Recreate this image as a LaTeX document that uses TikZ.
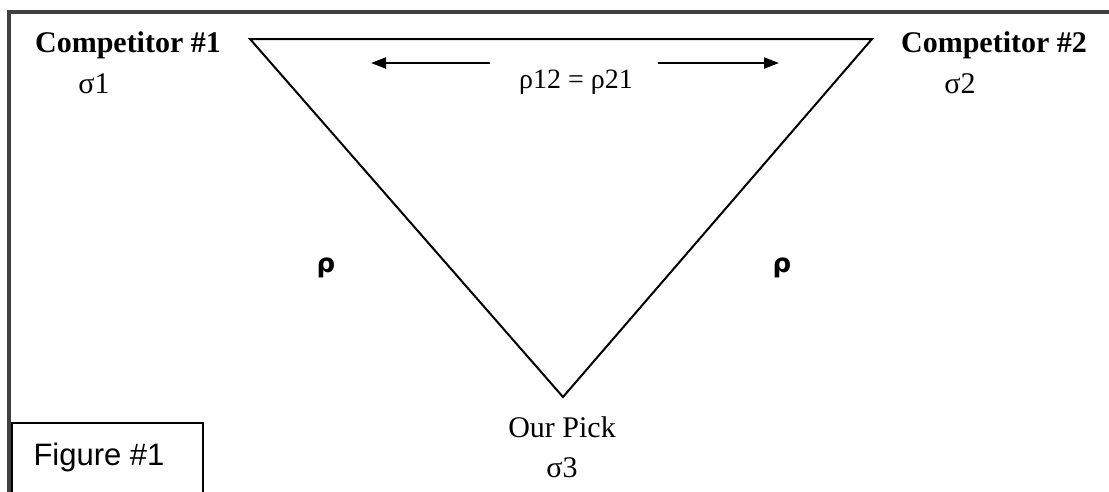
\documentclass[tikz,border=0pt]{standalone}
\usepackage{fontspec}
\setmainfont{Liberation Serif}
\newfontfamily\sansf{Liberation Sans}
\newfontfamily\rhofont{DejaVu Sans}
\usetikzlibrary{arrows.meta}
\definecolor{framegray}{HTML}{404040}
\tikzset{
  lbl/.style={inner sep=0pt, anchor=base, font=\fontsize{30}{36}\selectfont},
  boldlbl/.style={lbl, font=\fontsize{30}{36}\selectfont\bfseries},
  rholbl/.style={inner sep=0pt, anchor=base, font=\fontsize{26}{30}\selectfont\rhofont\bfseries},
  edge/.style={line width=2pt, line join=miter},
  arr/.style={line width=2pt, -{Triangle[length=15pt,width=11pt]}},
  frameline/.style={line width=4pt, draw=framegray},
}
\begin{document}
\begin{tikzpicture}[x=1pt,y=-1pt]
\useasboundingbox (0,0) rectangle (1109,491);
% frame
\coordinate (ftl) at (7,12);
\coordinate (ftr) at (1109,12);
\coordinate (fl) at (9,10);
\coordinate (fb) at (9,495);
\draw[frameline] (ftl) -- (ftr);
\draw[frameline] (fl) -- (fb);
% triangle
\coordinate (A) at (250,39);
\coordinate (B) at (872,39);
\coordinate (C) at (563,397);
\draw[edge] (A) -- (B) -- (C) -- cycle;
% labels
\node[boldlbl] (comp1) at (128,52) {Competitor \#1};
\node[lbl] (sig1) at (94,93) {σ1};
\node[boldlbl] (comp2) at (994,52) {Competitor \#2};
\node[lbl] (sig2) at (960,93) {σ2};
\node[lbl, font=\fontsize{28}{32}\selectfont] (rho12) at (576,88) {ρ12 = ρ21};
\coordinate (la) at (490,63);
\coordinate (lt) at (371,63);
\coordinate (ra) at (658,63);
\coordinate (rt) at (779,63);
\draw[arr] (la) -- (lt);
\draw[arr] (ra) -- (rt);
\node[rholbl] (rhol) at (326,272) {ρ};
\node[rholbl] (rhor) at (782,272) {ρ};
\node[lbl] (pick) at (562,437) {Our Pick};
\node[lbl] (sig3) at (562,477) {σ3};
% figure box
\node[draw, line width=1.5pt, minimum width=191pt, minimum height=80pt, anchor=north west, inner sep=0pt] (figbox) at (11,422) {};
\node[inner sep=0pt, anchor=base, font=\fontsize{31}{36}\selectfont\sansf] (figtxt) at (99,465) {Figure \#1};
\end{tikzpicture}
\end{document}
